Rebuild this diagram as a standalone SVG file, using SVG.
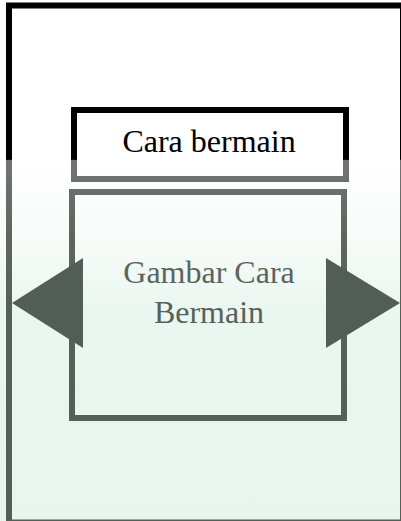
<svg xmlns="http://www.w3.org/2000/svg" width="401" height="521" viewBox="0 0 401 521">
  <defs>
    <linearGradient id="ink" gradientUnits="userSpaceOnUse" x1="0" y1="0" x2="0" y2="521">
      <stop offset="0" stop-color="#000000"/>
      <stop offset="0.306" stop-color="#000000"/>
      <stop offset="0.307" stop-color="#737373"/>
      <stop offset="0.45" stop-color="#5f6661"/>
      <stop offset="0.6" stop-color="#56605a"/>
      <stop offset="1" stop-color="#555f58"/>
    </linearGradient>
    <linearGradient id="bg" gradientUnits="userSpaceOnUse" x1="0" y1="0" x2="0" y2="521">
      <stop offset="0" stop-color="#ffffff"/>
      <stop offset="0.307" stop-color="#ffffff"/>
      <stop offset="0.45" stop-color="#f8fbf9"/>
      <stop offset="0.6" stop-color="#eaf6f0"/>
      <stop offset="1" stop-color="#e8f5ee"/>
    </linearGradient>
  </defs>
  <style>
    .box { fill: none; stroke: url(#ink); stroke-width: 6; }
    .lbl { font-family: "Liberation Serif", "Times New Roman", serif; font-size: 32px; text-anchor: middle; fill: url(#ink); }
    .arrow { fill: #525d56; }
  </style>
  <rect x="0" y="0" width="401" height="521" fill="url(#bg)"/>
  <g id="frame">
    <rect class="box" x="9" y="5.5" width="394" height="517"/>
  </g>
  <g id="title">
    <rect class="box" x="74" y="110" width="272" height="69"/>
    <text class="lbl" x="209" y="152">Cara bermain</text>
  </g>
  <g id="picture">
    <rect class="box" x="72" y="192" width="272" height="226"/>
    <text class="lbl" x="209" y="283">Gambar Cara</text>
    <text class="lbl" x="209" y="323">Bermain</text>
  </g>
  <g id="connectors">
    <polygon id="prev" class="arrow" points="83,258 12,303 83,348"/>
    <polygon id="next" class="arrow" points="326,258 400,303 326,348"/>
  </g>
</svg>
